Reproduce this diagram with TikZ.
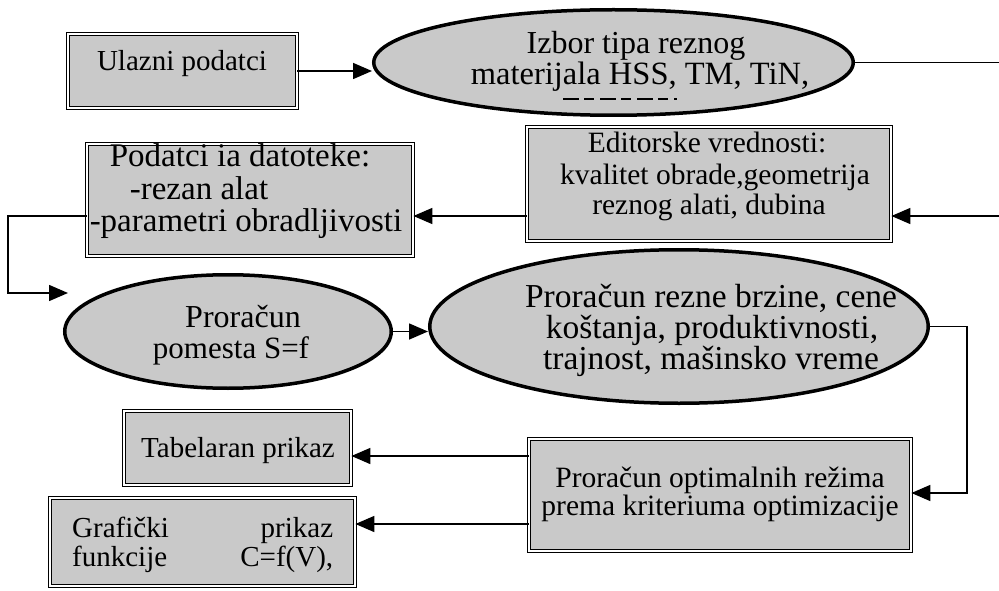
\documentclass[tikz,border=0pt]{standalone}
\usepackage{fontspec}
\setmainfont{Liberation Serif}
\usetikzlibrary{shapes.geometric,arrows.meta}
\definecolor{shade}{gray}{0.79}
\newcommand{\setfs}[1]{\fontsize{#1}{#1}\selectfont}
\begin{document}
\begin{tikzpicture}[x=1pt,y=-1pt,
  boxstyle/.style={rectangle, draw=black, double=white, double distance=2pt,
    line width=1.2pt, fill=shade, inner sep=0pt},
  ovalstyle/.style={ellipse, draw=black, line width=3.5pt, fill=shade, inner sep=0pt},
  lbl/.style={anchor=base, inner sep=0pt},
  conn/.style={line width=1.6pt},
  arr/.style={conn, -{Triangle[length=19pt,width=16pt]}},
]
\useasboundingbox (0,0) rectangle (999,591);

% ---- shapes ----
\node[boxstyle, minimum width=228.6pt, minimum height=73.6pt] (ulazni) at (182.5,71) {};
\node[ovalstyle, minimum width=479.5pt, minimum height=105.5pt] (izbor) at (613.5,62.5) {};
\node[boxstyle, minimum width=363.6pt, minimum height=113.6pt] (editor) at (709,184) {};
\node[boxstyle, minimum width=325.6pt, minimum height=111.6pt] (podatci) at (250,200) {};
\node[ovalstyle, minimum width=326.5pt, minimum height=113.5pt] (pomesta) at (228,331.5) {};
\node[ovalstyle, minimum width=498.5pt, minimum height=153.5pt] (brzina) at (679,326.5) {};
\node[boxstyle, minimum width=381.6pt, minimum height=111.6pt] (opt) at (720,495) {};
\node[boxstyle, minimum width=226.6pt, minimum height=73.6pt] (tab) at (237.5,448) {};
\node[boxstyle, minimum width=304.6pt, minimum height=87.6pt] (graf) at (202.5,542) {};

% ---- texts ----
\node[lbl, font=\setfs{29}] (t-ulazni) at (182,71) {Ulazni podatci};

\node[lbl, font=\setfs{32}] (t-izbor1) at (636,54) {Izbor tipa reznog};
\node[lbl, font=\setfs{32.5}] (t-izbor2) at (640,85) {materijala HSS, TM, TiN,};
% tops of a third line, cut off by the text frame
\draw[line width=2pt, dash pattern=on 16pt off 5pt on 10pt off 6pt] (563,99) -- (677,99);

\node[lbl, font=\setfs{29.5}] (t-ed1) at (707,153) {Editorske vrednosti:};
\node[lbl, font=\setfs{29.5}] (t-ed2) at (715,184) {kvalitet obrade,geometrija};
\node[lbl, font=\setfs{29.5}] (t-ed3) at (709,214) {reznog alati, dubina};

\node[lbl, font=\setfs{33}] (t-pod1) at (240,167) {Podatci ia datoteke:};
\node[lbl, font=\setfs{33}] (t-pod2) at (199,199) {-rezan alat};
\node[lbl, font=\setfs{33}] (t-pod3) at (246,231) {-parametri obradljivosti};

\node[lbl, font=\setfs{32}] (t-pom1) at (243,327) {Proračun};
\node[lbl, font=\setfs{31}] (t-pom2) at (231,358) {pomesta S=f};

\node[lbl, font=\setfs{33.5}] (t-brz1) at (711,307) {Proračun rezne brzine, cene};
\node[lbl, font=\setfs{33.5}] (t-brz2) at (712,338) {koštanja, produktivnosti,};
\node[lbl, font=\setfs{33.5}] (t-brz3) at (711,369) {trajnost, mašinsko vreme};

\node[lbl, font=\setfs{29.5}] (t-opt1) at (720,487) {Proračun optimalnih režima};
\node[lbl, font=\setfs{29.5}] (t-opt2) at (720,515) {prema kriteriuma optimizacije};

\node[lbl, font=\setfs{29}] (t-tab) at (238,457) {Tabelaran prikaz};

\node[lbl, anchor=base west, font=\setfs{29}] (t-graf1) at (72,537)
  {\makebox[261pt][s]{Grafički \hfill prikaz}};
\node[lbl, anchor=base west, font=\setfs{29}] (t-graf2) at (72,566)
  {\makebox[261pt][s]{funkcije \hfill C=f(V),}};

% ---- connectors ----
\coordinate (edgeA) at (999,63);
\coordinate (edgeB) at (999,216);
\coordinate (bendA) at (8,216);
\coordinate (bendB) at (8,293);
\coordinate (feedIn) at (68,293);
\coordinate (bendC) at (967,326.5);
\coordinate (bendD) at (967,493);
\coordinate (rowT) at (0,456);
\coordinate (rowG) at (0,524);

\draw[arr] (ulazni.east) -- (ulazni.east -| izbor.west);
\draw[conn] (izbor.east) -- (izbor.east -| edgeA);
\draw[arr] (edgeB) -- (edgeB -| editor.east);
\draw[arr] (editor.west |- edgeB) -- (edgeB -| podatci.east);
\draw[arr] (podatci.west |- bendA) -- (bendA) -- (bendB) -- (feedIn);
\draw[arr] (pomesta.east) -- (pomesta.east -| brzina.west);
\draw[arr] (brzina.east) -- (bendC) -- (bendD) -- (bendD -| opt.east);
\draw[arr] (opt.west |- rowT) -- (tab.east |- rowT);
\draw[arr] (opt.west |- rowG) -- (graf.east |- rowG);
\end{tikzpicture}
\end{document}
